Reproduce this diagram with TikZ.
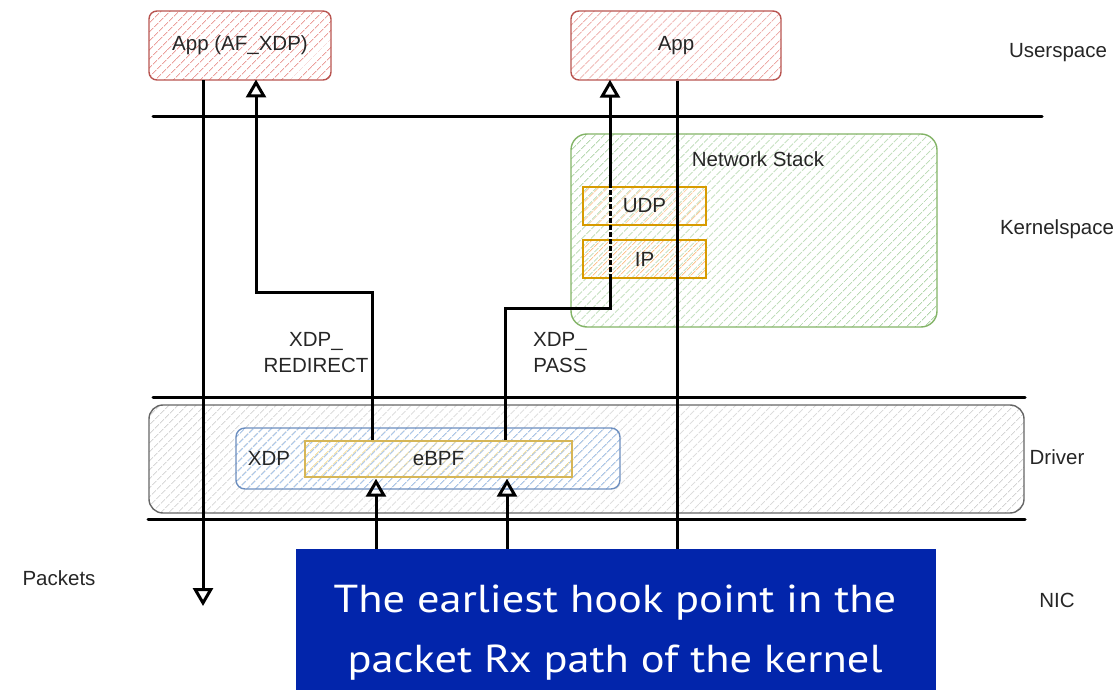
\documentclass[tikz,border=0pt]{standalone}
\usepackage{fontspec}
\setmainfont{Liberation Sans}
\newfontfamily\bannerfont[FakeStretch=1.14]{PT Sans}
\usetikzlibrary{patterns.meta,arrows.meta,calc}

\definecolor{redline}{HTML}{B85450}
\definecolor{redfill}{HTML}{EBA09C}
\definecolor{greenline}{HTML}{82B366}
\definecolor{greenfill}{HTML}{AFD4A8}
\definecolor{orangeline}{HTML}{D79B00}
\definecolor{orangefill}{HTML}{FCC490}
\definecolor{blueline}{HTML}{6C8EBF}
\definecolor{bluefill}{HTML}{A9C7EC}
\definecolor{yellowline}{HTML}{D6B656}
\definecolor{yellowfill}{HTML}{F6DD93}
\definecolor{grayline}{HTML}{666666}
\definecolor{grayfill}{HTML}{D2D2D2}
\definecolor{bannerblue}{HTML}{0225AB}

\tikzset{
  hatch/.style={pattern={Lines[angle=45,distance=6.5pt,line width=1pt]},pattern color=#1},
  box/.style={draw=#1line, line width=1.4pt, hatch=#1fill, inner sep=0pt,
              font=\fontsize{20.5}{26}\selectfont, text=black!85},
  lbl/.style={font=\fontsize{20.5}{26}\selectfont, text=black!85},
  layer/.style={line width=3pt, line cap=round},
  wire/.style={line width=3pt},
  tip/.style={-{Triangle[open,length=18pt,width=20pt,line width=3pt]}},
  bannertext/.style={text=white, inner sep=0pt, font=\bannerfont\fontsize{39}{60}\selectfont},
}

\begin{document}
\begin{tikzpicture}[x=1pt,y=-1pt]
\useasboundingbox (0,0) rectangle (1120,690);

% user-space applications
\node[box=red, rounded corners=8pt, minimum width=182pt, minimum height=69pt]
  (afxdp) at (240,45.5) {App (AF\_XDP)};
\node[box=red, rounded corners=8pt, minimum width=210pt, minimum height=69pt]
  (app) at (676,45.5) {App};

% kernel network stack
\node[box=green, rounded corners=16pt, minimum width=366pt, minimum height=193pt]
  (stack) at (754,230.5) {};
\node[lbl] (stacklbl) at (758,159) {Network Stack};
\node[box=orange, minimum width=123pt, minimum height=38pt] (udp) at (644.5,206) {UDP};
\node[box=orange, minimum width=123pt, minimum height=38pt] (ip)  at (644.5,259) {IP};

% driver with the XDP hook
\node[box=gray, rounded corners=14pt, minimum width=875pt, minimum height=108pt]
  (driver) at (586.5,459) {};
\node[box=blue, rounded corners=9pt, minimum width=384pt, minimum height=61pt]
  (xdp) at (428,458.5) {};
\node[lbl] (xdplbl) at (269,458) {XDP};
\node[box=yellow, minimum width=267pt, minimum height=36pt] (ebpf) at (438.5,459) {eBPF};

% layer separators
\coordinate (s1a) at (153,117);  \coordinate (s1b) at (1042,117);
\coordinate (s2a) at (153,397);  \coordinate (s2b) at (1025,397);
\coordinate (s3a) at (148,519);  \coordinate (s3b) at (1025,519);
\draw[layer] (s1a) -- (s1b);
\draw[layer] (s2a) -- (s2b);
\draw[layer] (s3a) -- (s3b);

% layer names
\node[lbl] (user)   at (1058,53)  {Userspace};
\node[lbl] (kernel) at (1057,229) {Kernelspace};
\node[lbl] (drv)    at (1057,457) {Driver};
\node[lbl] (nic)    at (1057,600) {NIC};
\node[lbl] (pkts)   at (59,578)   {Packets};

% action labels
\node[lbl, align=center] (redir) at (316,353) {XDP\_\\REDIRECT};
\node[lbl, align=center] (pass)  at (560,353) {XDP\_\\PASS};

% packets transmitted by the AF_XDP application
\coordinate (pktend) at (203,606);
\draw[wire, tip] (afxdp.south -| pktend) -- (pktend);

% XDP_REDIRECT path to the AF_XDP socket
\coordinate (rx1) at (372,292);
\coordinate (rx2) at (256,292);
\draw[wire, tip] (ebpf.north -| rx1) -- (rx1) -- (rx2) -- ([yshift=1pt]afxdp.south -| rx2);

% XDP_PASS path through the network stack
\coordinate (px1) at (505,308);
\coordinate (px2) at (610,308);
\coordinate (px3) at (610,279);
\coordinate (px4) at (610,187);
\draw[wire] (ebpf.north -| px1) -- (px1) -- (px2) -- (px3);
\draw[wire, dash pattern=on 5pt off 2pt] (px3) -- (px4);
\draw[wire, tip] (px4) -- ([yshift=1pt]app.south -| px4);

% application transmit path down to the NIC
\coordinate (tx) at (677,560);
\draw[wire] (app.south -| tx) -- (tx);

% packets received from the NIC into eBPF
\coordinate (in1) at (376,560);
\coordinate (in2) at (507,560);
\draw[wire, tip] (in1) -- ([yshift=-1pt]ebpf.south -| in1);
\draw[wire, tip] (in2) -- ([yshift=-1pt]ebpf.south -| in2);

% caption banner
\node[fill=bannerblue, minimum width=640pt, minimum height=141pt, inner sep=0pt]
  (banner) at (616,619.5) {};
\node[bannertext, anchor=base] (cap1) at (615,612) {The earliest hook point in the};
\node[bannertext, anchor=base] (cap2) at (615,672) {packet Rx path of the kernel};
\end{tikzpicture}
\end{document}
